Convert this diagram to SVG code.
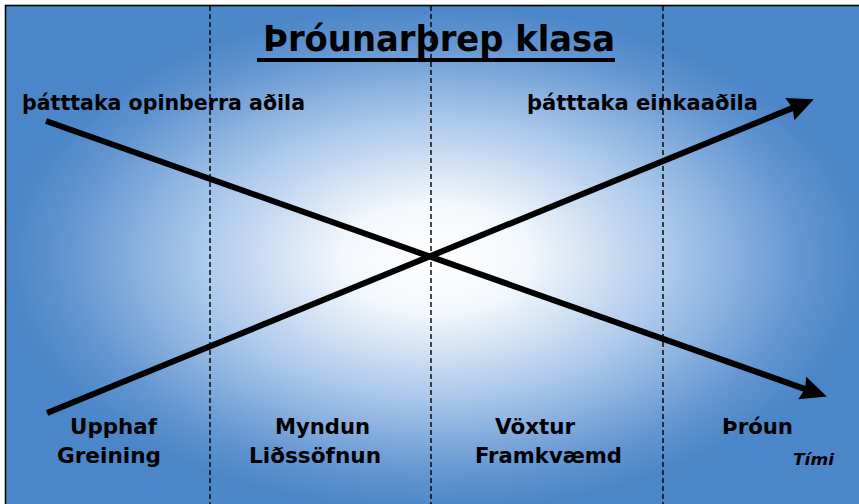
<svg xmlns="http://www.w3.org/2000/svg" width="859" height="504" viewBox="0 0 859 504">
  <defs>
    <radialGradient id="bg" cx="0.5" cy="0.5" r="0.5" fx="0.5" fy="0.5">
      <stop offset="0" stop-color="#ffffff"/>
      <stop offset="0.22" stop-color="#f2f7fc"/>
      <stop offset="0.55" stop-color="#abc8ea"/>
      <stop offset="0.85" stop-color="#6496d2"/>
      <stop offset="1" stop-color="#4b86c8"/>
    </radialGradient>
    <marker id="ah" markerUnits="userSpaceOnUse" markerWidth="30" markerHeight="26" refX="4" refY="12" orient="auto">
      <path d="M0,0 L26,12 L0,24 L3,12 z" fill="#000"/>
    </marker>
    <style>
      .lbl { font-family: "DejaVu Sans", Verdana, sans-serif; font-weight: bold; font-size: 21px; fill: #000; }
      .ttl { font-family: "DejaVu Sans", Verdana, sans-serif; font-weight: bold; font-size: 35px; fill: #000; }
      .tm { font-family: "DejaVu Sans", Verdana, sans-serif; font-weight: bold; font-style: italic; font-size: 15px; fill: #000; }
      .dash { stroke: #000; stroke-width: 1.4; stroke-dasharray: 5 3; fill: none; }
      .arr { stroke: #000; stroke-width: 6; fill: none; marker-end: url(#ah); }
    </style>
  </defs>
  <rect x="0" y="0" width="859" height="504" fill="#ffffff"/>
  <rect id="frame" x="5.5" y="5.5" width="860" height="505" fill="url(#bg)" stroke="#000" stroke-width="1.6"/>

  <g id="dividers">
    <line class="dash" x1="210" y1="6" x2="210" y2="504"/>
    <line class="dash" x1="431" y1="6" x2="431" y2="504"/>
    <line class="dash" x1="663" y1="6" x2="663" y2="504"/>
  </g>

  <g id="title">
    <text class="ttl" x="263" y="51" textLength="352" lengthAdjust="spacingAndGlyphs">Þróunarþrep klasa</text>
    <rect x="257" y="58" width="358" height="4" fill="#000"/>
  </g>

  <g id="connectors">
    <line id="public" class="arr" x1="46" y1="121" x2="806" y2="389.3"/>
    <line id="private" class="arr" x1="47" y1="413" x2="793.5" y2="107.6"/>
  </g>

  <g id="label-public">
    <text class="lbl" x="22" y="110" textLength="283" lengthAdjust="spacingAndGlyphs">þátttaka opinberra aðila</text>
  </g>
  <g id="label-private">
    <text class="lbl" x="527" y="110" textLength="231" lengthAdjust="spacingAndGlyphs">þátttaka  einkaaðila</text>
  </g>

  <g id="stage1">
    <text class="lbl" x="70" y="434" textLength="87" lengthAdjust="spacingAndGlyphs">Upphaf</text>
    <text class="lbl" x="57" y="463" textLength="104" lengthAdjust="spacingAndGlyphs">Greining</text>
  </g>
  <g id="stage2">
    <text class="lbl" x="275" y="434" textLength="95" lengthAdjust="spacingAndGlyphs">Myndun</text>
    <text class="lbl" x="249" y="463" textLength="132" lengthAdjust="spacingAndGlyphs">Liðssöfnun</text>
  </g>
  <g id="stage3">
    <text class="lbl" x="495" y="434" textLength="80" lengthAdjust="spacingAndGlyphs">Vöxtur</text>
    <text class="lbl" x="475" y="463" textLength="147" lengthAdjust="spacingAndGlyphs">Framkvæmd</text>
  </g>
  <g id="stage4">
    <text class="lbl" x="722" y="434" textLength="71" lengthAdjust="spacingAndGlyphs">Þróun</text>
    <text class="tm" x="793" y="465" textLength="41" lengthAdjust="spacingAndGlyphs">Tími</text>
  </g>
</svg>
